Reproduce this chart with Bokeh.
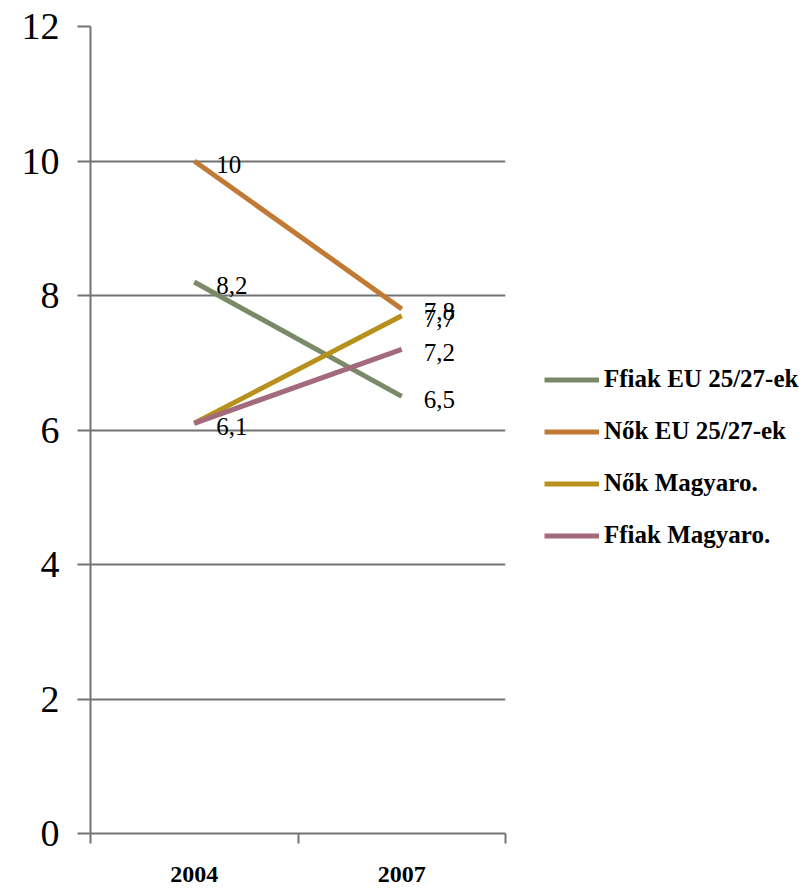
import numpy as np
from bokeh.plotting import figure
from bokeh.layouts import row
from bokeh.models import Range1d, FixedTicker, Legend, LegendItem, ColumnDataSource
from bokeh.core.properties import value
from bokeh.embed import file_html
from bokeh.resources import INLINE

years = ["2004", "2007"]
series_names = ["Ffiak EU 25/27-ek", "Nők EU 25/27-ek", "Nők Magyaro.", "Ffiak Magyaro."]
ffiak_eu = [8.2, 6.5]
nok_eu = [10.0, 7.8]
nok_hu = [6.1, 7.7]
ffiak_hu = [6.1, 7.2]
series_values = [ffiak_eu, nok_eu, nok_hu, ffiak_hu]
colors = ["#7a8a68", "#c07a35", "#b8901c", "#a26a7a"]
y_ticks = [0, 2, 4, 6, 8, 10, 12]

xs = list(np.arange(len(years)) + 0.5)

H = 891
p = figure(width=507, height=H, output_backend="svg", toolbar_location=None,
           x_range=Range1d(0, len(years)), y_range=Range1d(0, 12),
           min_border_left=90, min_border_top=26, min_border_bottom=58, min_border_right=2)
p.outline_line_color = None
p.background_fill_color = "white"
p.border_fill_color = "white"

grid_color = "#737373"
# y axis
p.yaxis.ticker = FixedTicker(ticks=y_ticks)
p.yaxis.axis_line_color = grid_color
p.yaxis.axis_line_width = 2
p.yaxis.major_tick_line_color = grid_color
p.yaxis.major_tick_line_width = 2
p.yaxis.major_tick_out = 13
p.yaxis.major_tick_in = 0
p.yaxis.minor_tick_line_color = None
p.yaxis.major_label_standoff = 18
p.yaxis.major_label_text_font = "Liberation Serif"
p.yaxis.major_label_text_font_size = "38px"
p.yaxis.major_label_text_color = "black"

# x axis
p.xaxis.ticker = FixedTicker(ticks=xs, minor_ticks=list(range(len(years) + 1)))
p.xaxis.major_label_overrides = {float(x): y for x, y in zip(xs, years)}
p.xaxis.axis_line_color = grid_color
p.xaxis.axis_line_width = 2
p.xaxis.major_tick_line_color = None
p.xaxis.major_tick_out = 0
p.xaxis.major_tick_in = 0
p.xaxis.minor_tick_line_color = grid_color
p.xaxis.minor_tick_line_width = 2
p.xaxis.minor_tick_out = 10
p.xaxis.minor_tick_in = 0
p.xaxis.major_label_standoff = 23
p.xaxis.major_label_text_font = "Liberation Serif"
p.xaxis.major_label_text_font_style = "bold"
p.xaxis.major_label_text_font_size = "24px"
p.xaxis.major_label_text_color = "black"

p.xgrid.grid_line_color = None
p.ygrid.ticker = FixedTicker(ticks=y_ticks)
p.ygrid.grid_line_color = grid_color
p.ygrid.grid_line_width = 2

for name, vals, c in zip(series_names, series_values, colors):
    p.line(xs, vals, line_color=c, line_width=5)

# data labels
lx, ly, lt = [], [], []
seen = set()
for vals in series_values:
    for x, v in zip(xs, vals):
        key = (x, v)
        if key in seen:
            continue
        seen.add(key)
        lx.append(x)
        ly.append(v)
        lt.append(("%g" % v).replace(".", ","))
src = ColumnDataSource(dict(x=lx, y=ly, t=lt))
p.text(x="x", y="y", text="t", source=src, x_offset=22, y_offset=3,
       text_align="left", text_baseline="middle",
       text_font=value("Liberation Serif"), text_font_size="25px", text_color="black")

# legend panel (series drawn out of view; only legend visible)
pl = figure(width=300, height=H, output_backend="svg", toolbar_location=None,
            x_axis_type=None, y_axis_type=None, min_border=0,
            x_range=Range1d(-20, -19), y_range=Range1d(0, 12))
pl.outline_line_color = None
pl.grid.visible = False
pl.background_fill_color = "white"
pl.border_fill_color = "white"
items = []
for name, vals, c in zip(series_names, series_values, colors):
    r = pl.line(xs, vals, line_color=c, line_width=5)
    items.append(LegendItem(label=name, renderers=[r]))

legend = Legend(items=items, location=(37, 284), orientation="vertical",
                glyph_width=55, glyph_height=25, label_height=25, spacing=24,
                padding=0, margin=0, label_standoff=5,
                label_text_font="Liberation Serif", label_text_font_style="bold",
                label_text_font_size="25px", label_text_color="black",
                border_line_color=None, background_fill_alpha=0)
pl.add_layout(legend, "center")

layout = row(p, pl)
open("out.html", "w").write(file_html(layout, INLINE))
